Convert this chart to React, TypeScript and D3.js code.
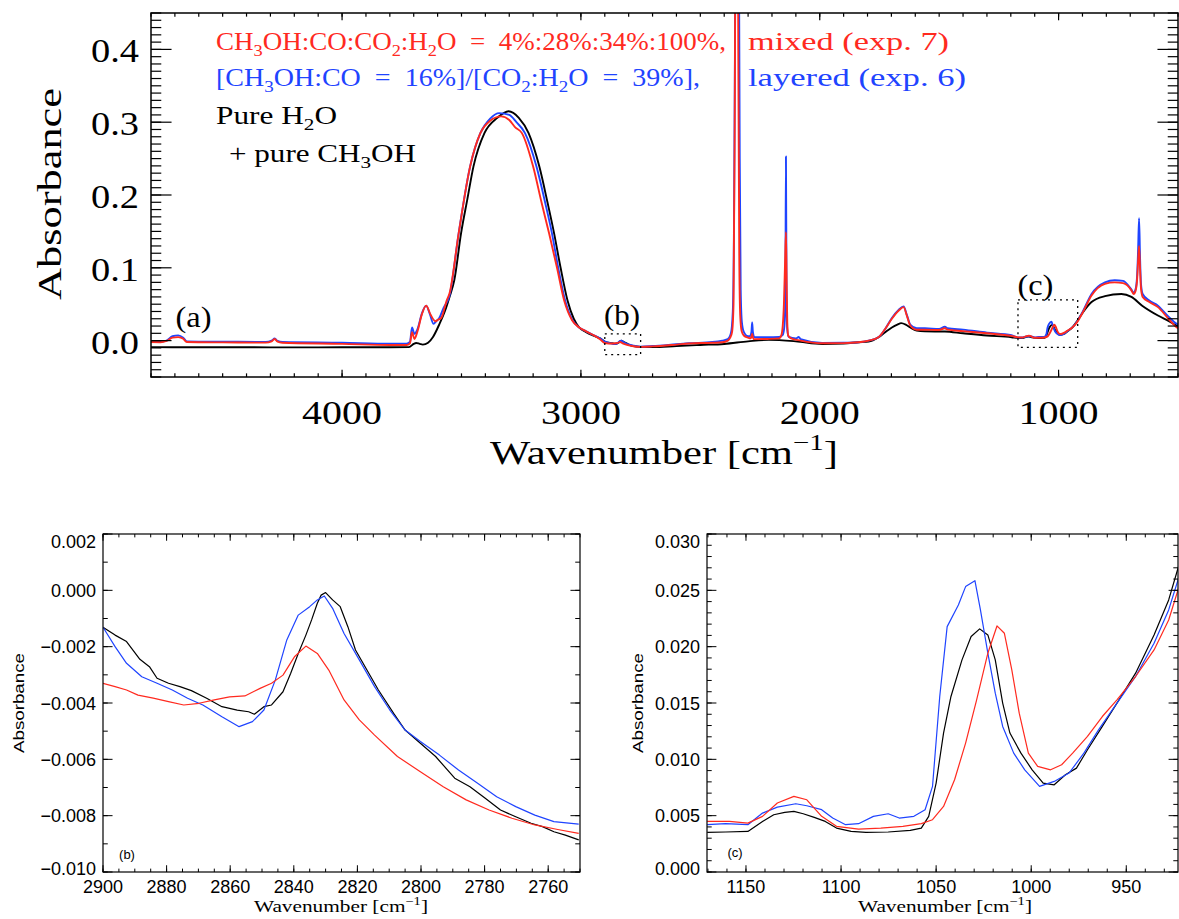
import React, { useEffect, useRef } from 'react';
import * as d3 from 'd3';

type Pt = [number, number];

// ---- full spectrum (top panel): [wavenumber, absorbance] ----
const fullPure: Pt[] = [
  [4800, -0.009], [4600, -0.0092], [4400, -0.0092], [4200, -0.0093], [4000, -0.0092], [3800, -0.0092],
  [3720, -0.009], [3700, -0.0045], [3690, -0.0032], [3675, -0.0045], [3662, -0.0055], [3640, -0.003],
  [3620, 0.0046], [3592, 0.023], [3570, 0.04], [3550, 0.06], [3530, 0.083], [3502, 0.147], [3475, 0.195],
  [3450, 0.239], [3404, 0.285], [3350, 0.306], [3303, 0.315], [3260, 0.306], [3219, 0.285], [3174, 0.239],
  [3140, 0.19], [3112, 0.147], [3085, 0.1], [3056, 0.055], [3030, 0.03], [3007, 0.018], [2980, 0.012],
  [2950, 0.007], [2920, 0.003], [2900, -0.0013], [2870, -0.0035], [2855, -0.0043], [2845, -0.0035],
  [2831, 0.0], [2820, -0.002], [2800, -0.0054], [2775, -0.0078], [2750, -0.0088], [2700, -0.009],
  [2600, -0.0075], [2500, -0.006], [2400, -0.0046], [2300, -0.001], [2213, 0.001], [2100, -0.001],
  [1990, -0.0046], [1900, -0.004], [1837, -0.0023], [1795, -0.0014], [1754, 0.0046], [1726, 0.0115],
  [1698, 0.018], [1675, 0.022], [1659, 0.024], [1640, 0.022], [1621, 0.018], [1594, 0.0138], [1560, 0.0128],
  [1476, 0.0124], [1400, 0.01], [1300, 0.007], [1197, 0.0046], [1170, 0.0035], [1150, 0.0036], [1135, 0.0051],
  [1125, 0.0054], [1110, 0.0045], [1095, 0.0036], [1060, 0.0037], [1050, 0.008], [1040, 0.017], [1027, 0.0216],
  [1015, 0.015], [1005, 0.0105], [994, 0.0079], [980, 0.0088], [960, 0.0135], [940, 0.019], [922, 0.027],
  [900, 0.038], [862, 0.053], [806, 0.061], [737, 0.064], [695, 0.06], [650, 0.048], [584, 0.0345],
  [540, 0.027], [505, 0.0207], [500, 0.02],
];

const fullLayered: Pt[] = [
  [4800, -0.0015], [4760, -0.0015], [4735, 0.0], [4710, 0.006], [4686, 0.0072], [4665, 0.004], [4650, -0.001],
  [4500, -0.0015], [4320, -0.0018], [4295, 0.0], [4282, 0.0028], [4270, -0.0005], [4250, -0.002], [4000, -0.003],
  [3800, -0.0043], [3730, -0.0042], [3716, -0.002], [3707, 0.018], [3697, 0.0092], [3685, 0.015], [3665, 0.038],
  [3648, 0.048], [3632, 0.036], [3617, 0.023], [3605, 0.027], [3595, 0.03], [3575, 0.045], [3550, 0.062],
  [3512, 0.147], [3464, 0.239], [3421, 0.285], [3380, 0.305], [3342, 0.3125], [3300, 0.31], [3270, 0.3],
  [3234, 0.285], [3186, 0.239], [3150, 0.19], [3121, 0.147], [3095, 0.1], [3066, 0.055], [3035, 0.028],
  [3007, 0.018], [2980, 0.013], [2950, 0.008], [2920, 0.003], [2900, -0.0013], [2875, -0.0038], [2857, -0.0048],
  [2849, -0.0043], [2842, -0.0018], [2830, -0.0002], [2820, -0.0025], [2805, -0.005], [2780, -0.007],
  [2750, -0.0083], [2700, -0.0075], [2600, -0.005], [2548, -0.0037], [2450, -0.002], [2408, 0.0], [2385, 0.002],
  [2372, 0.01], [2364, 0.04], [2359, 0.16], [2355, 0.4], [2350, 0.75], [2344, 0.9], [2339, 0.6], [2335, 0.25],
  [2331, 0.07], [2326, 0.025], [2318, 0.012], [2300, 0.006], [2292, 0.006], [2286, 0.012], [2283, 0.025],
  [2280, 0.012], [2274, 0.005], [2220, 0.0045], [2170, 0.005], [2155, 0.008], [2148, 0.02], [2144, 0.06],
  [2141.5, 0.253], [2139, 0.06], [2136, 0.015], [2130, 0.005], [2100, 0.003], [2088, 0.005], [2080, 0.002],
  [1990, -0.0032], [1900, -0.003], [1837, -0.0023], [1795, 0.0], [1754, 0.0046], [1726, 0.016], [1698, 0.031],
  [1670, 0.042], [1649, 0.047], [1635, 0.035], [1621, 0.022], [1594, 0.017], [1560, 0.017], [1500, 0.016],
  [1476, 0.019], [1465, 0.017], [1400, 0.015], [1300, 0.011], [1197, 0.0075], [1170, 0.0042], [1150, 0.0042],
  [1135, 0.0057], [1124, 0.006], [1110, 0.0055], [1098, 0.0042], [1083, 0.0049], [1062, 0.0049], [1052, 0.0076],
  [1046, 0.018], [1040, 0.023], [1030, 0.0259], [1023, 0.0194], [1015, 0.0129], [1004, 0.0091], [996, 0.0076],
  [980, 0.0088], [965, 0.0126], [945, 0.0174], [923, 0.026], [900, 0.039], [862, 0.064], [806, 0.08],
  [765, 0.083], [730, 0.082], [695, 0.07], [686, 0.066], [678, 0.07], [671, 0.09], [667, 0.125], [663, 0.168],
  [659, 0.115], [655, 0.078], [648, 0.064], [620, 0.055], [584, 0.048], [540, 0.033], [505, 0.023], [500, 0.022],
];

const fullMixed: Pt[] = [
  [4800, -0.002], [4760, -0.0022], [4735, -0.0005], [4710, 0.004], [4686, 0.0048], [4665, 0.0025], [4650, -0.002],
  [4500, -0.0025], [4320, -0.0028], [4295, -0.001], [4282, 0.0023], [4270, -0.0015], [4250, -0.003], [4000, -0.0045],
  [3800, -0.006], [3730, -0.006], [3716, -0.004], [3707, 0.0114], [3697, 0.0023], [3685, 0.012], [3665, 0.037],
  [3648, 0.048], [3630, 0.036], [3609, 0.0266], [3597, 0.029], [3585, 0.031], [3562, 0.055], [3550, 0.065],
  [3512, 0.147], [3464, 0.239], [3421, 0.285], [3380, 0.302], [3334, 0.308], [3300, 0.303], [3275, 0.293],
  [3247, 0.285], [3200, 0.239], [3165, 0.19], [3133, 0.147], [3100, 0.1], [3070, 0.055], [3037, 0.028],
  [3007, 0.018], [2980, 0.013], [2950, 0.008], [2920, 0.002], [2900, -0.0033], [2870, -0.004], [2855, -0.0037],
  [2845, -0.0031], [2836, -0.002], [2825, -0.0038], [2807, -0.0059], [2780, -0.0078], [2750, -0.0086],
  [2700, -0.008], [2600, -0.0055], [2548, -0.004], [2450, -0.003], [2408, -0.0023], [2385, 0.0], [2375, 0.004],
  [2367, 0.012], [2361, 0.05], [2356, 0.3], [2350, 0.8], [2345, 0.8], [2341, 0.4], [2337, 0.12], [2333, 0.035],
  [2327, 0.013], [2318, 0.007], [2300, 0.004], [2290, 0.003], [2285, 0.0065], [2283, 0.0092], [2281, 0.006],
  [2275, 0.002], [2220, 0.0023], [2170, 0.003], [2162, 0.006], [2155, 0.02], [2150, 0.05], [2145, 0.11],
  [2141.5, 0.149], [2139, 0.09], [2136, 0.025], [2132, 0.007], [2120, 0.003], [2080, 0.0], [1990, -0.0037],
  [1900, -0.0035], [1837, -0.0023], [1795, 0.0], [1754, 0.0046], [1726, 0.016], [1698, 0.03], [1670, 0.041],
  [1649, 0.046], [1635, 0.034], [1621, 0.0207], [1594, 0.015], [1560, 0.015], [1500, 0.0145], [1476, 0.017],
  [1465, 0.015], [1400, 0.013], [1300, 0.01], [1197, 0.0065], [1170, 0.0045], [1150, 0.0043], [1135, 0.0061],
  [1125, 0.0067], [1118, 0.0064], [1110, 0.0049], [1100, 0.004], [1080, 0.0039], [1058, 0.0043], [1046, 0.0058],
  [1035, 0.0114], [1023, 0.0194], [1018, 0.0218], [1012, 0.019], [1005, 0.013], [998, 0.0095], [990, 0.0091],
  [978, 0.0105], [962, 0.0138], [945, 0.0174], [923, 0.025], [900, 0.038], [862, 0.062], [806, 0.078],
  [765, 0.08], [730, 0.079], [695, 0.069], [686, 0.064], [678, 0.068], [671, 0.085], [667, 0.11], [663, 0.13],
  [659, 0.1], [655, 0.072], [648, 0.06], [620, 0.053], [584, 0.046], [540, 0.03], [505, 0.018], [500, 0.017],
];

// ---- zoom (b), 2900-2750 cm-1 ----
const bPure: Pt[] = [
  [2900, -0.00131], [2896.2, -0.00159], [2892.6, -0.00182], [2888.4, -0.00245], [2885.4, -0.00271],
  [2883, -0.00312], [2879.4, -0.0033], [2875.8, -0.00342], [2872.2, -0.00356], [2867.4, -0.00383],
  [2862.6, -0.00413], [2857.8, -0.00425], [2854.2, -0.00431], [2852.4, -0.0044], [2849.4, -0.00413],
  [2847, -0.00407], [2843.4, -0.0036], [2841, -0.00295], [2838.6, -0.00224], [2836.2, -0.00159],
  [2834.4, -0.00105], [2832.6, -0.00046], [2831.4, -0.00017], [2830, -0.00008], [2827.8, -0.00034],
  [2825.4, -0.00058], [2823, -0.00129], [2820.6, -0.00212], [2817, -0.00283], [2813.4, -0.00354],
  [2808.6, -0.00437], [2805, -0.00496], [2800.2, -0.00543], [2795.4, -0.0059], [2789.4, -0.00667],
  [2784.6, -0.00697], [2779.8, -0.00738], [2775, -0.0078], [2770.2, -0.00804], [2765.4, -0.00827],
  [2761.8, -0.00839], [2758.2, -0.00857], [2754.6, -0.00869], [2750.4, -0.00886],
];
const bLayered: Pt[] = [
  [2900, -0.00131], [2896.2, -0.002], [2892.6, -0.00259], [2887.8, -0.00307], [2883, -0.0033],
  [2878.2, -0.00354], [2873.4, -0.00383], [2868.6, -0.00407], [2862.6, -0.00449], [2857.2, -0.00484],
  [2853, -0.00466], [2849.4, -0.00425], [2845.8, -0.00318], [2842.2, -0.00176], [2838.6, -0.00088],
  [2835, -0.00058], [2832.6, -0.00034], [2830.4, -0.0002], [2827.8, -0.00064], [2824.2, -0.00153],
  [2819.4, -0.00247], [2814.6, -0.00342], [2809.8, -0.00425], [2805, -0.00496], [2800.2, -0.00537],
  [2794.2, -0.00585], [2788.2, -0.00638], [2782.2, -0.00685], [2776.2, -0.00733], [2770.2, -0.00768],
  [2764.2, -0.00798], [2758.2, -0.00821], [2750.4, -0.0083],
];
const bMixed: Pt[] = [
  [2900, -0.0033], [2896.2, -0.00342], [2892.6, -0.00354], [2889, -0.00372], [2884.2, -0.00383],
  [2879.4, -0.00395], [2874.6, -0.00407], [2869.8, -0.00401], [2865, -0.00389], [2860.2, -0.00378],
  [2855.4, -0.00375], [2850.6, -0.00348], [2847, -0.0033], [2843.4, -0.00301], [2839.8, -0.00236],
  [2836.2, -0.00198], [2832.6, -0.00224], [2829, -0.00283], [2824.2, -0.00389], [2819.4, -0.0046],
  [2814.6, -0.00514], [2807.4, -0.0059], [2800.2, -0.00644], [2793, -0.00697], [2785.8, -0.00744],
  [2778.6, -0.0078], [2771.4, -0.00809], [2764.2, -0.00833], [2757, -0.00849], [2750.4, -0.00863],
];

// ---- zoom (c), 1170-920 cm-1 ----
const cPure: Pt[] = [
  [1170.4, 0.00352], [1160.7, 0.00355], [1149, 0.0036], [1141.3, 0.00449], [1135.4, 0.00508], [1129.6, 0.00529],
  [1124.8, 0.00538], [1119.9, 0.00517], [1114.1, 0.00485], [1108.3, 0.00449], [1102.4, 0.0039], [1094.7, 0.0036],
  [1086.9, 0.00352], [1075.2, 0.00355], [1063.6, 0.0037], [1057.8, 0.0039], [1053.9, 0.00494], [1050, 0.00789],
  [1046.1, 0.01233], [1042.2, 0.01558], [1036.4, 0.01883], [1031.6, 0.0209], [1027.1, 0.02158], [1022.8, 0.02104],
  [1018.9, 0.01883], [1015, 0.01499], [1011.2, 0.01233], [1005.4, 0.01055], [999.5, 0.00907], [993.7, 0.00789],
  [987.9, 0.00774], [982, 0.00863], [976.2, 0.00922], [970.4, 0.01085], [962.6, 0.01292], [954.9, 0.01499],
  [945.1, 0.01765], [935.4, 0.02104], [927.7, 0.02415], [922.8, 0.02696], [920, 0.0285],
];
const cLayered: Pt[] = [
  [1170.4, 0.0042], [1160.7, 0.00429], [1149, 0.0042], [1141.3, 0.00523], [1133.5, 0.00576], [1123.8, 0.00606],
  [1118, 0.00588], [1110.2, 0.00553], [1104.4, 0.00479], [1097.6, 0.0042], [1090.8, 0.00429], [1083, 0.00494],
  [1075.2, 0.00517], [1069.4, 0.00479], [1061.7, 0.00494], [1055.8, 0.00553], [1051.9, 0.0076], [1048.1, 0.01558],
  [1044.2, 0.02178], [1038.3, 0.0237], [1034.5, 0.02533], [1029.6, 0.02586], [1026.7, 0.02326], [1022.8, 0.01942],
  [1018.9, 0.01587], [1015, 0.01292], [1009.2, 0.01055], [1003.4, 0.00907], [995.6, 0.0076], [987.9, 0.00804],
  [980.1, 0.00878], [972.3, 0.01055], [964.6, 0.01262], [954.9, 0.01499], [945.1, 0.01735], [935.4, 0.0203],
  [927.7, 0.02326], [922.8, 0.02592], [920, 0.0274],
];
const cMixed: Pt[] = [
  [1170.4, 0.00449], [1158.7, 0.00449], [1149, 0.00434], [1141.3, 0.00494], [1133.5, 0.00612], [1124.8, 0.00671],
  [1118, 0.00641], [1110.2, 0.00494], [1102.4, 0.00405], [1090.8, 0.00381], [1079.1, 0.0039], [1067.5, 0.00405],
  [1057.8, 0.00429], [1051.9, 0.00464], [1046.1, 0.00582], [1040.3, 0.00819], [1034.5, 0.01144], [1028.7, 0.01528],
  [1022.8, 0.01942], [1018, 0.02184], [1014.1, 0.02119], [1010.2, 0.01794], [1006.3, 0.0141], [1001.5, 0.01055],
  [996.6, 0.00937], [989.8, 0.00907], [984, 0.00952], [978.2, 0.01055], [970.4, 0.01203], [962.6, 0.0138],
  [954.9, 0.01528], [945.1, 0.01735], [935.4, 0.01971], [927.7, 0.02237], [922.8, 0.02503], [920, 0.0265],
];

// ---- ticks ----
const fullXTicks = [4000, 3000, 2000, 1000];
const fullYTicks = [0, 0.1, 0.2, 0.3, 0.4];
const bXTicks = [2900, 2880, 2860, 2840, 2820, 2800, 2780, 2760];
const bYTicks = [-0.01, -0.008, -0.006, -0.004, -0.002, 0, 0.002];
const cXTicks = [1150, 1100, 1050, 1000, 950];
const cYTicks = [0, 0.005, 0.01, 0.015, 0.02, 0.025, 0.03];

// regions marked on the full spectrum
const insetBoxes = [
  { w: [2900, 2750], a: [-0.0193, 0.0092] },
  { w: [1170, 920], a: [-0.0092, 0.056] },
];
const regionLabels = [
  { text: '(a)', w: 4622, a: 0.029 },
  { text: '(b)', w: 2828, a: 0.033 },
  { text: '(c)', w: 1097, a: 0.073 },
];

const RED = '#ff2a1f';
const BLUE = '#1f44ff';
const SERIF = "'Liberation Serif', 'DejaVu Serif', serif";
const SANS = "'Liberation Sans', Arial, sans-serif";

function richText(g: any, x: number, y: number, parts: [string, number][], size: number, opts: any) {
  const t = g.append('text')
    .attr('x', x).attr('y', y)
    .attr('font-family', opts.family)
    .attr('font-size', size)
    .attr('fill', opts.color || '#000')
    .attr('text-anchor', opts.anchor || 'start')
    .style('white-space', 'pre');
  if (opts.length) t.attr('textLength', opts.length).attr('lengthAdjust', 'spacingAndGlyphs');
  if (opts.transform) t.attr('transform', opts.transform);
  let shift = 0;
  parts.forEach(([s, kind]) => {
    // kind: 0 normal, 1 subscript, -1 superscript
    const target = kind === 0 ? 0 : kind === 1 ? size * 0.24 : -size * 0.42;
    t.append('tspan')
      .attr('dy', target - shift)
      .attr('font-size', kind === 0 ? size : size * 0.68)
      .text(s);
    shift = target;
  });
  return t;
}

function drawPanel(svg: any, cfg: any) {
  const { left, right, top, bottom } = cfg.box;
  const x = d3.scaleLinear().domain(cfg.xDomain).range([left, right]);
  const y = d3.scaleLinear().domain(cfg.yDomain).range([bottom, top]);
  const clipId = 'clip-' + cfg.name;
  svg.append('clipPath').attr('id', clipId)
    .append('rect').attr('x', left).attr('y', top).attr('width', right - left).attr('height', bottom - top);

  const line = d3.line<Pt>().x(d => x(d[0])).y(d => y(d[1])).curve(cfg.curve);
  const lines = svg.append('g').attr('clip-path', `url(#${clipId})`);
  cfg.series.forEach((s: any) => {
    lines.append('path').datum(s.data)
      .attr('d', line)
      .attr('fill', 'none')
      .attr('stroke', s.color)
      .attr('stroke-width', cfg.lineWidth)
      .attr('stroke-linejoin', 'round');
  });

  // IDL style ticks on all four sides, pointing in
  const xLen = 0.02 * (bottom - top);
  const yLen = 0.02 * (right - left);
  const tg = svg.append('g').attr('stroke', '#000').attr('stroke-width', cfg.tickWidth);
  const xt = (v: number, len: number) => {
    tg.append('line').attr('x1', x(v)).attr('x2', x(v)).attr('y1', bottom).attr('y2', bottom - len);
    tg.append('line').attr('x1', x(v)).attr('x2', x(v)).attr('y1', top).attr('y2', top + len);
  };
  const yt = (v: number, len: number) => {
    tg.append('line').attr('y1', y(v)).attr('y2', y(v)).attr('x1', left).attr('x2', left + len);
    tg.append('line').attr('y1', y(v)).attr('y2', y(v)).attr('x1', right).attr('x2', right - len);
  };
  cfg.xMinor.forEach((v: number) => xt(v, xLen / 2));
  cfg.yMinor.forEach((v: number) => yt(v, yLen / 2));
  cfg.xTicks.forEach((v: number) => xt(v, xLen));
  cfg.yTicks.forEach((v: number) => yt(v, yLen));

  svg.append('rect')
    .attr('x', left).attr('y', top).attr('width', right - left).attr('height', bottom - top)
    .attr('fill', 'none').attr('stroke', '#000').attr('stroke-width', cfg.frameWidth);

  const lab = cfg.labels;
  const xl = svg.append('g').attr('font-family', lab.family).attr('font-size', lab.size).attr('text-anchor', 'middle');
  cfg.xTicks.forEach((v: number) => {
    const t = xl.append('text').attr('x', x(v)).attr('y', lab.xBaseline).text(lab.xFormat(v));
    if (lab.xLength) t.attr('textLength', lab.xLength).attr('lengthAdjust', 'spacingAndGlyphs');
  });
  const yl = svg.append('g').attr('font-family', lab.family).attr('font-size', lab.size).attr('text-anchor', 'end');
  cfg.yTicks.forEach((v: number) => {
    const cy = Math.min(Math.max(y(v), top + lab.clampTop), bottom - lab.clampBottom);
    const t = yl.append('text').attr('x', lab.yRight).attr('y', cy + lab.yShift).text(lab.yFormat(v));
    if (lab.yLength) t.attr('textLength', lab.yLength).attr('lengthAdjust', 'spacingAndGlyphs');
  });
  return { x, y };
}

export default function App() {
  const ref = useRef<SVGSVGElement>(null);

  useEffect(() => {
    const svg = d3.select(ref.current);
    svg.selectAll('*').remove();

    // ---------- top: full spectrum ----------
    const full = drawPanel(svg, {
      name: 'full',
      box: { left: 151, right: 1178, top: 13, bottom: 377 },
      xDomain: [4800, 500],
      yDomain: [-0.05, 0.45],
      curve: d3.curveMonotoneX,
      lineWidth: 1.9,
      tickWidth: 1.2,
      frameWidth: 1.5,
      series: [
        { data: fullPure, color: '#000' },
        { data: fullLayered, color: BLUE },
        { data: fullMixed, color: RED },
      ],
      xTicks: fullXTicks,
      yTicks: fullYTicks,
      xMinor: d3.range(5, 49).map(i => i * 100),
      yMinor: d3.range(-5, 46).map(i => i / 100),
      labels: {
        family: SERIF, size: 33,
        xBaseline: 424, xFormat: d3.format('d'), xLength: 80,
        yRight: 139, yShift: 13, yFormat: d3.format('.1f'), yLength: 48,
        clampTop: -100, clampBottom: -100,
      },
    });

    const marks = svg.append('g');
    insetBoxes.forEach(b => {
      const x0 = full.x(b.w[0]), x1 = full.x(b.w[1]);
      const y0 = full.y(b.a[1]), y1 = full.y(b.a[0]);
      marks.append('rect')
        .attr('x', x0).attr('y', y0).attr('width', x1 - x0).attr('height', y1 - y0)
        .attr('fill', 'none').attr('stroke', '#000').attr('stroke-width', 1.3)
        .attr('stroke-dasharray', '2,4');
    });
    regionLabels.forEach(l => {
      marks.append('text')
        .attr('x', full.x(l.w)).attr('y', full.y(l.a) + 8)
        .attr('text-anchor', 'middle')
        .attr('font-family', SERIF).attr('font-size', 29)
        .attr('textLength', 36).attr('lengthAdjust', 'spacingAndGlyphs')
        .text(l.text);
    });

    // legend
    const leg = svg.append('g');
    richText(leg, 216, 50, [['CH', 0], ['3', 1], ['OH:CO:CO', 0], ['2', 1], [':H', 0], ['2', 1], ['O  =  4%:28%:34%:100%,', 0]], 25,
      { family: SERIF, color: RED, length: 510 });
    richText(leg, 748, 50, [['mixed (exp. 7)', 0]], 25, { family: SERIF, color: RED, length: 201 });
    richText(leg, 216, 86, [['[CH', 0], ['3', 1], ['OH:CO  =  16%]/[CO', 0], ['2', 1], [':H', 0], ['2', 1], ['O  =  39%],', 0]], 25,
      { family: SERIF, color: BLUE, length: 484 });
    richText(leg, 748, 86, [['layered (exp. 6)', 0]], 25, { family: SERIF, color: BLUE, length: 218 });
    richText(leg, 216, 124, [['Pure H', 0], ['2', 1], ['O', 0]], 25, { family: SERIF, length: 121 });
    richText(leg, 229, 162, [['+ pure CH', 0], ['3', 1], ['OH', 0]], 25, { family: SERIF, length: 187 });

    // axis titles
    richText(svg, 664, 464, [['Wavenumber [cm', 0], ['\u22121', -1], [']', 0]], 33,
      { family: SERIF, anchor: 'middle', length: 348 });
    richText(svg, 61, 194, [['Absorbance', 0]], 34,
      { family: SERIF, anchor: 'middle', length: 212, transform: 'rotate(-90,61,194)' });

    // ---------- bottom left: (b) ----------
    const smallLabels = {
      family: SANS, size: 18,
      xBaseline: 893, xFormat: d3.format('d'),
      yShift: 6.5, yFormat: d3.format('.3f'),
      clampTop: 7, clampBottom: 4,
    };
    drawPanel(svg, {
      name: 'b',
      box: { left: 103, right: 580, top: 534, bottom: 872 },
      xDomain: [2900, 2750],
      yDomain: [-0.01, 0.002],
      curve: d3.curveLinear,
      lineWidth: 1.2,
      tickWidth: 1,
      frameWidth: 1.2,
      series: [
        { data: bPure, color: '#000' },
        { data: bLayered, color: BLUE },
        { data: bMixed, color: RED },
      ],
      xTicks: bXTicks,
      yTicks: bYTicks,
      xMinor: d3.range(550, 581).map(i => i * 5),
      yMinor: d3.range(-10, 3).map(i => i / 1000),
      labels: { ...smallLabels, yRight: 96 },
    });
    richText(svg, 127, 859, [['(b)', 0]], 13, { family: SANS, anchor: 'middle' });
    richText(svg, 341, 912, [['Wavenumber [cm', 0], ['\u22121', -1], [']', 0]], 17,
      { family: SERIF, anchor: 'middle', length: 174 });
    richText(svg, 23.5, 703, [['Absorbance', 0]], 15,
      { family: SANS, anchor: 'middle', length: 100, transform: 'rotate(-90,23.5,703)' });

    // ---------- bottom right: (c) ----------
    drawPanel(svg, {
      name: 'c',
      box: { left: 707, right: 1178, top: 534, bottom: 872 },
      xDomain: [1170.5, 922.8],
      yDomain: [0, 0.03],
      curve: d3.curveLinear,
      lineWidth: 1.2,
      tickWidth: 1,
      frameWidth: 1.2,
      series: [
        { data: cPure, color: '#000' },
        { data: cLayered, color: BLUE },
        { data: cMixed, color: RED },
      ],
      xTicks: cXTicks,
      yTicks: cYTicks,
      xMinor: d3.range(93, 118).map(i => i * 10),
      yMinor: d3.range(0, 31).map(i => i / 1000),
      labels: { ...smallLabels, yRight: 700 },
    });
    richText(svg, 735, 857, [['(c)', 0]], 13, { family: SANS, anchor: 'middle' });
    richText(svg, 945, 912, [['Wavenumber [cm', 0], ['\u22121', -1], [']', 0]], 17,
      { family: SERIF, anchor: 'middle', length: 174 });
    richText(svg, 643, 703, [['Absorbance', 0]], 15,
      { family: SANS, anchor: 'middle', length: 100, transform: 'rotate(-90,643,703)' });
  }, []);

  return (
    <svg
      ref={ref}
      width={1179}
      height={919}
      style={{ position: 'absolute', left: 0, top: 0, background: '#fff' }}
    />
  );
}
